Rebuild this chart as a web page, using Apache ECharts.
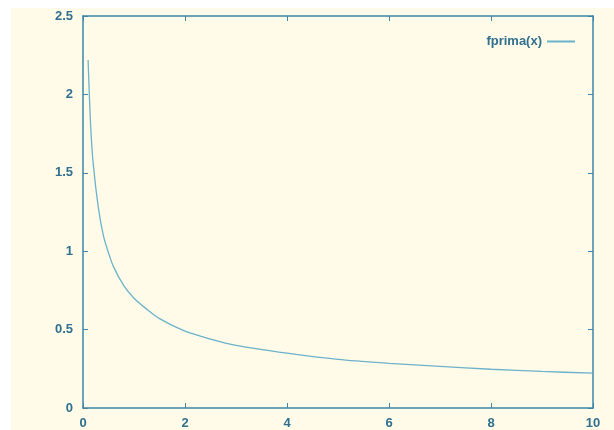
<!DOCTYPE html>
<html>
<head>
<meta charset="utf-8">
<script src="https://cdn.jsdelivr.net/npm/echarts@6/dist/echarts.min.js"></script>
<style>
  html, body { margin: 0; padding: 0; background: #ffffff; }
  #main { position: absolute; left: 11px; top: 8px; width: 603px; height: 422px; background: #fffbe8; }
</style>
</head>
<body>
<div id="main"></div>
<script>
// fprima(x)
let xs = [0.1, 0.15, 0.2, 0.3, 0.4, 0.5, 0.6, 0.8, 1, 1.25, 1.5, 2, 2.5, 3, 4, 5, 6, 7, 8, 9, 10];
let ys = [2.22, 1.8, 1.56, 1.28, 1.1, 0.99, 0.9, 0.78, 0.7, 0.63, 0.57, 0.49, 0.44, 0.4, 0.35, 0.31, 0.285, 0.265, 0.247, 0.233, 0.222];
let xTicks = [0, 2, 4, 6, 8, 10];
let yTicks = [0, 0.5, 1, 1.5, 2, 2.5];

let axisColor = '#3d86a8';
let textColor = '#2f6f8f';
let lineColor = '#6cb2cc';

let points = xs.map(function (x, i) { return [x, ys[i]]; });

let labelStyle = {
    color: textColor,
    fontFamily: 'Liberation Sans, Arial, sans-serif',
    fontWeight: 'bold',
    fontSize: 13
};

function xAx(pos, showLabel) {
    return {
        type: 'value',
        position: pos,
        min: 0, max: 10, interval: 2,
        axisLine: { show: true, onZero: false, lineStyle: { color: axisColor, width: 1.5 } },
        axisTick: { show: true, inside: true, length: 5, lineStyle: { color: axisColor } },
        axisLabel: Object.assign({ show: showLabel, margin: 9 }, labelStyle),
        splitLine: { show: false }
    };
}
function yAx(pos, showLabel) {
    return {
        type: 'value',
        position: pos,
        min: 0, max: 2.5, interval: 0.5,
        axisLine: { show: true, onZero: false, lineStyle: { color: axisColor, width: 1.5 } },
        axisTick: { show: true, inside: true, length: 5, lineStyle: { color: axisColor } },
        axisLabel: Object.assign({ show: showLabel, margin: 10 }, labelStyle),
        splitLine: { show: false }
    };
}

let option = {
    backgroundColor: '#fffbe8',
    animation: false,
    grid: { left: 72, right: 21, top: 8, bottom: 11, containLabel: false },
    legend: {
        right: 34, top: 22,
        itemWidth: 28, itemHeight: 2,
        itemGap: 10,
        icon: 'rect',
        align: 'right',
        textStyle: labelStyle,
        data: ['fprima(x)']
    },
    xAxis: [xAx('bottom', true), xAx('top', false)],
    yAxis: [yAx('left', true), yAx('right', false)],
    series: [{
        name: 'fprima(x)',
        type: 'line',
        smooth: 0.3,
        showSymbol: false,
        itemStyle: { color: lineColor },
        lineStyle: { color: lineColor, width: 1.3 },
        data: points
    }]
};

let myChart = echarts.init(document.getElementById('main'));
myChart.setOption(option);
</script>
</body>
</html>
